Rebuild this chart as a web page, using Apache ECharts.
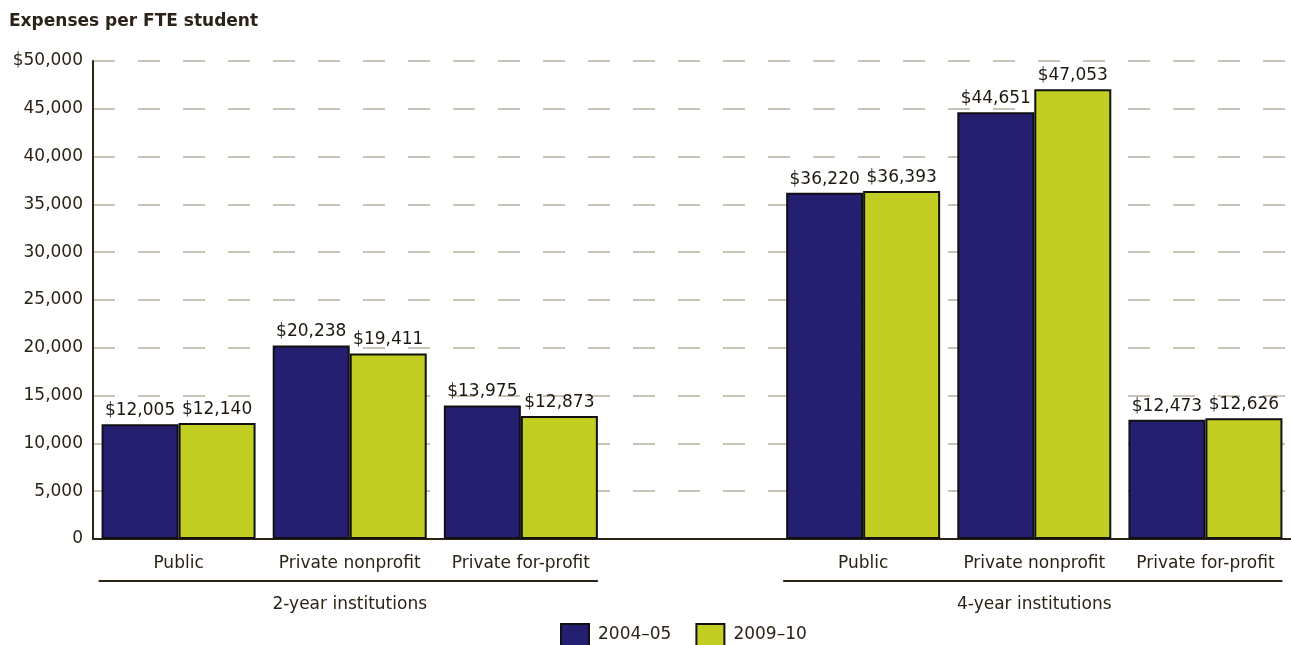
<!DOCTYPE html>
<html><head><meta charset="utf-8">
<script src="https://cdn.jsdelivr.net/npm/echarts@6/dist/echarts.min.js"></script>
<style>html,body{margin:0;padding:0;background:#fff}#c{width:1291px;height:645px}</style>
</head><body><div id="c"></div>
<script>
const categories = ['Public', 'Private nonprofit', 'Private for-profit', '', 'Public', 'Private nonprofit', 'Private for-profit'];
const groupLabels = ['', '2-year institutions', '', '', '', '4-year institutions', ''];
const groups = [[0, 2], [4, 6]];
const seriesNames = ['2004\u201305', '2009\u201310'];
const values0405 = [12005, 20238, 13975, '-', 36220, 44651, 12473];
const values0910 = [12140, 19411, 12873, '-', 36393, 47053, 12626];
const yTicks = { min: 0, max: 50000, interval: 5000 };

const FONT = '"DejaVu Sans", sans-serif';
const TXT = '#2b2316';
const chart = echarts.init(document.getElementById('c'), null, { renderer: 'canvas' });
const money = v => '$' + Number(v).toLocaleString('en-US');
const labelCfg = {
  show: true, position: 'top', distance: 5, color: '#1e1810', fontFamily: FONT,
  fontSize: 17, formatter: p => money(p.value)
};
chart.setOption({
  animation: false,
  title: { text: 'Expenses per FTE student', left: 9, top: 13, padding: 0,
    textStyle: { fontFamily: FONT, fontSize: 17, fontWeight: 'bold', color: TXT } },
  grid: { left: 93, right: 0, top: 61, bottom: 106, containLabel: false },
  legend: {
    data: seriesNames, left: 560, top: 623, padding: 0, itemWidth: 28, itemHeight: 22, itemGap: 24,
    textStyle: { fontFamily: FONT, fontSize: 17, color: TXT, padding: [0, 0, 0, 4] },
    icon: 'rect'
  },
  xAxis: [{
    type: 'category', data: categories,
    axisLine: { show: true, lineStyle: { color: TXT, width: 2 } },
    axisTick: { show: false },
    axisLabel: { color: TXT, fontFamily: FONT, fontSize: 17, margin: 16, interval: 0 }
  }, {
    type: 'category', data: groupLabels, position: 'bottom',
    axisLine: { show: false }, axisTick: { show: false },
    axisLabel: { color: TXT, fontFamily: FONT, fontSize: 17, margin: 57, interval: 0 }
  }],
  yAxis: {
    type: 'value', min: yTicks.min, max: yTicks.max, interval: yTicks.interval,
    axisLine: { show: true, lineStyle: { color: TXT, width: 2 } },
    axisTick: { show: false },
    axisLabel: { color: TXT, fontFamily: FONT, fontSize: 17, margin: 10,
      formatter: v => v === yTicks.max ? money(v) : Number(v).toLocaleString('en-US') },
    splitLine: { show: true, lineStyle: { color: '#c9c2b6', width: 2, type: [22, 23] } }
  },
  series: [
    { name: seriesNames[0], type: 'bar', data: values0405, barWidth: 77, barGap: '0%',
      itemStyle: { color: '#241f70', borderColor: '#111', borderWidth: 2 }, label: labelCfg },
    { name: seriesNames[1], type: 'bar', data: values0910, barWidth: 77, barGap: '0%',
      itemStyle: { color: '#c2cf22', borderColor: '#111', borderWidth: 2 }, label: labelCfg }
  ]
});
// group underlines positioned from the category scale
const lines = groups.map(([a, b]) => {
  const xa = chart.convertToPixel({ xAxisIndex: 0 }, a);
  const xb = chart.convertToPixel({ xAxisIndex: 0 }, b);
  const y = chart.convertToPixel({ yAxisIndex: 0 }, 0);
  return { type: 'line', shape: { x1: xa - 80, y1: y + 42, x2: xb + 77, y2: y + 42 },
    style: { stroke: TXT, lineWidth: 2 } };
});
chart.setOption({ graphic: lines });
</script></body></html>
